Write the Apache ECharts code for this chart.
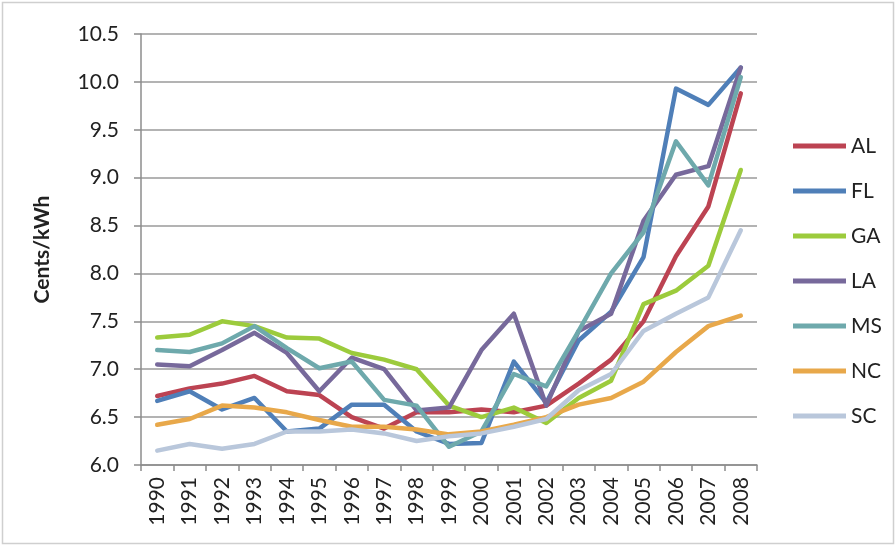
<!DOCTYPE html>
<html>
<head>
<meta charset="utf-8">
<script src="https://cdn.jsdelivr.net/npm/echarts@6/dist/echarts.min.js"></script>
<style>
  html, body { margin: 0; padding: 0; background: #ffffff; }
  #chart { width: 896px; height: 546px; }
</style>
</head>
<body>
<div id="chart"></div>
<script>
// Average retail electricity price by state, 1990–2008 (cents per kWh)
const years = ['1990','1991','1992','1993','1994','1995','1996','1997','1998','1999',
               '2000','2001','2002','2003','2004','2005','2006','2007','2008'];

const AL = [6.72, 6.80, 6.85, 6.93, 6.77, 6.73, 6.50, 6.38, 6.55, 6.55, 6.58, 6.55, 6.62, 6.85, 7.10, 7.50, 8.18, 8.70, 9.88];
const FL = [6.67, 6.77, 6.58, 6.70, 6.35, 6.38, 6.63, 6.63, 6.35, 6.22, 6.23, 7.08, 6.65, 7.30, 7.60, 8.17, 9.93, 9.76, 10.15];
const GA = [7.33, 7.36, 7.50, 7.45, 7.33, 7.32, 7.17, 7.10, 7.00, 6.62, 6.50, 6.60, 6.44, 6.70, 6.88, 7.68, 7.82, 8.08, 9.08];
const LA = [7.05, 7.03, 7.20, 7.38, 7.17, 6.77, 7.12, 7.00, 6.57, 6.60, 7.20, 7.58, 6.62, 7.40, 7.58, 8.55, 9.03, 9.12, 10.15];
const MS = [7.20, 7.18, 7.27, 7.45, 7.22, 7.01, 7.08, 6.68, 6.62, 6.19, 6.35, 6.95, 6.82, 7.40, 8.00, 8.43, 9.38, 8.92, 10.05];
const NC = [6.42, 6.48, 6.62, 6.60, 6.55, 6.47, 6.40, 6.40, 6.37, 6.32, 6.35, 6.42, 6.50, 6.63, 6.70, 6.87, 7.18, 7.45, 7.56];
const SC = [6.15, 6.22, 6.17, 6.22, 6.35, 6.35, 6.37, 6.33, 6.25, 6.30, 6.33, 6.40, 6.48, 6.78, 6.95, 7.40, 7.58, 7.75, 8.45];

const stateNames = ['AL', 'FL', 'GA', 'LA', 'MS', 'NC', 'SC'];
const stateData  = [AL, FL, GA, LA, MS, NC, SC];
const stateColors = ['#BC4352', '#4F7FB8', '#9CCB3C', '#77699B', '#6EA9AC', '#E8A84A', '#B9C7DB'];

const FONT = 'Lato, "Open Sans", sans-serif';

const chart = echarts.init(document.getElementById('chart'), null, { renderer: 'canvas' });

chart.setOption({
  animation: false,
  backgroundColor: '#ffffff',
  color: stateColors,
  graphic: [{
    type: 'rect',
    shape: { x: 2.5, y: 2.5, width: 891, height: 541 },
    style: { fill: 'none', stroke: '#cfcfcf', lineWidth: 1.5 },
    silent: true
  }],
  grid: { left: 141, right: 139, top: 34, bottom: 81 },
  legend: {
    orient: 'vertical',
    left: 788,
    top: 130,
    icon: 'rect',
    itemWidth: 53,
    itemHeight: 5,
    itemGap: 23,
    textStyle: { fontFamily: FONT, fontSize: 21, lineHeight: 22, color: '#222' },
    data: stateNames
  },
  xAxis: {
    type: 'category',
    data: years,
    boundaryGap: true,
    axisLine: { lineStyle: { color: '#8c8c8c', width: 1.5 } },
    axisTick: { show: true, length: 6, alignWithLabel: false, lineStyle: { color: '#8c8c8c', width: 1.5 } },
    axisLabel: {
      rotate: 90,
      interval: 0,
      margin: 12,
      fontFamily: FONT,
      fontSize: 21,
      color: '#222'
    }
  },
  yAxis: {
    type: 'value',
    min: 6.0,
    max: 10.5,
    interval: 0.5,
    name: 'Cents/kWh',
    nameLocation: 'middle',
    nameGap: 88,
    nameTextStyle: { fontFamily: FONT, fontSize: 21, fontWeight: 'bold', color: '#222' },
    axisLine: { show: true, lineStyle: { color: '#8c8c8c', width: 1.5 } },
    axisTick: { show: true, length: 7, lineStyle: { color: '#8c8c8c', width: 1.5 } },
    axisLabel: {
      margin: 22,
      fontFamily: FONT,
      fontSize: 21,
      color: '#222',
      formatter: v => v.toFixed(1)
    },
    splitLine: { show: true, lineStyle: { color: '#9a9a9a', width: 1.5 } }
  },
  series: stateNames.map((name, i) => ({
    name: name,
    type: 'line',
    data: stateData[i],
    symbol: 'none',
    smooth: false,
    lineStyle: { width: 4.5, color: stateColors[i], cap: 'round', join: 'round' },
    itemStyle: { color: stateColors[i] }
  }))
});
</script>
</body>
</html>
